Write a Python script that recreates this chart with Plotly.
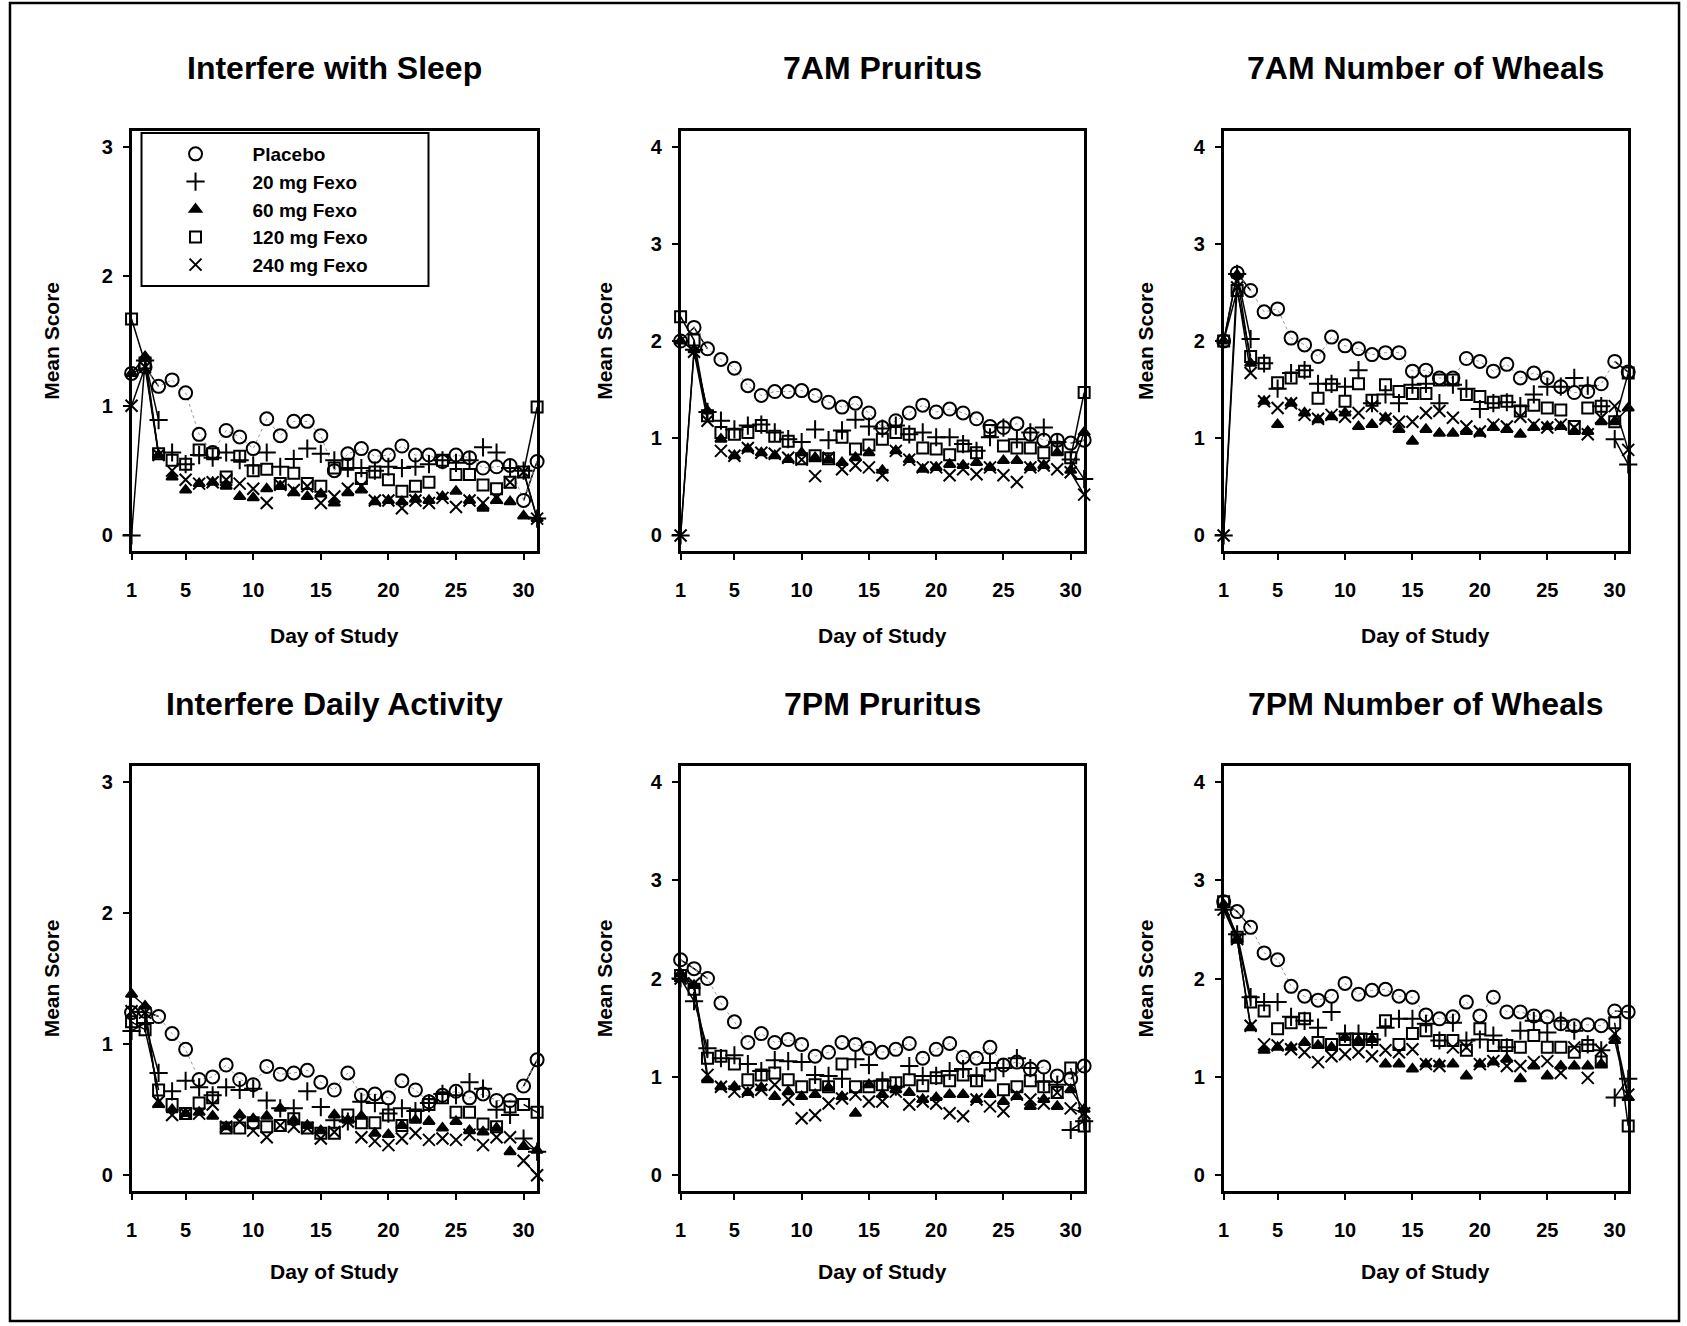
import plotly.graph_objs as go

W, H = 1687, 1326
FONT = 'Liberation Sans, Arial, sans-serif'

days = list(range(1, 32))
x_ticks = [1, 5, 10, 15, 20, 25, 30]
groups = ['Placebo', '20 mg Fexo', '60 mg Fexo', '120 mg Fexo', '240 mg Fexo']
titles = ['Interfere with Sleep', '7AM Pruritus', '7AM Number of Wheals',
          'Interfere Daily Activity', '7PM Pruritus', '7PM Number of Wheals']
y_max = [3, 4, 4, 3, 4, 4]

# Interfere with Sleep
sleep_placebo = [1.25, 1.30, 1.15, 1.20, 1.10, 0.78, 0.64, 0.81, 0.76, 0.67, 0.90, 0.77, 0.88, 0.88, 0.77, 0.50,
                 0.63, 0.67, 0.61, 0.62, 0.69, 0.62, 0.62, 0.57, 0.62, 0.60, 0.52, 0.53, 0.54, 0.27, 0.57]
sleep_20 = [0.00, 1.35, 0.89, 0.64, 0.55, 0.62, 0.60, 0.64, 0.58, 0.54, 0.64, 0.53, 0.59, 0.67, 0.63, 0.58,
            0.52, 0.52, 0.50, 0.53, 0.52, 0.53, 0.55, 0.58, 0.56, 0.58, 0.68, 0.64, 0.52, 0.50, 0.13]
sleep_60 = [1.25, 1.38, 0.62, 0.45, 0.35, 0.40, 0.41, 0.38, 0.30, 0.29, 0.36, 0.38, 0.33, 0.30, 0.32, 0.25,
            0.33, 0.35, 0.26, 0.27, 0.26, 0.28, 0.27, 0.30, 0.34, 0.27, 0.21, 0.27, 0.26, 0.15, 0.13]
sleep_120 = [1.67, 1.33, 0.63, 0.58, 0.55, 0.66, 0.63, 0.45, 0.61, 0.50, 0.51, 0.40, 0.48, 0.40, 0.38, 0.52,
             0.55, 0.44, 0.49, 0.43, 0.34, 0.38, 0.41, 0.58, 0.47, 0.47, 0.39, 0.36, 0.41, 0.49, 0.99]
sleep_240 = [1.00, 1.30, 0.62, 0.50, 0.43, 0.40, 0.41, 0.43, 0.40, 0.36, 0.25, 0.39, 0.35, 0.38, 0.25, 0.30,
             0.36, 0.38, 0.27, 0.27, 0.21, 0.27, 0.25, 0.29, 0.22, 0.27, 0.25, 0.29, 0.41, 0.49, 0.13]

# 7AM Pruritus
am_pru_placebo = [2.00, 2.14, 1.92, 1.81, 1.72, 1.54, 1.44, 1.48, 1.48, 1.49, 1.44, 1.37, 1.32, 1.36, 1.26, 1.11,
                  1.18, 1.26, 1.34, 1.27, 1.30, 1.26, 1.20, 1.12, 1.11, 1.15, 1.04, 0.98, 0.98, 0.95, 0.98]
am_pru_20 = [0.00, 1.91, 1.27, 1.18, 1.09, 1.13, 1.14, 1.06, 0.99, 0.96, 1.09, 0.98, 1.08, 1.19, 1.12, 1.10,
             1.13, 1.04, 1.06, 1.01, 1.01, 0.94, 0.87, 1.01, 1.11, 0.99, 1.06, 1.11, 0.96, 0.78, 0.58]
am_pru_60 = [2.00, 1.91, 1.28, 0.99, 0.82, 0.89, 0.85, 0.82, 0.78, 0.85, 0.80, 0.78, 0.75, 0.80, 0.85, 0.67,
             0.87, 0.78, 0.68, 0.70, 0.73, 0.72, 0.75, 0.70, 0.77, 0.77, 0.70, 0.72, 0.85, 0.67, 1.06]
am_pru_120 = [2.25, 2.01, 1.23, 1.06, 1.04, 1.06, 1.13, 1.02, 0.97, 0.79, 0.82, 0.79, 1.01, 0.89, 0.93, 0.99,
              1.06, 1.04, 0.90, 0.89, 0.83, 0.92, 0.85, 1.08, 0.92, 0.90, 0.90, 0.85, 0.89, 0.80, 1.47]
am_pru_240 = [0.00, 1.89, 1.18, 0.87, 0.82, 0.90, 0.85, 0.84, 0.80, 0.78, 0.61, 0.80, 0.68, 0.72, 0.70, 0.62,
              0.87, 0.78, 0.70, 0.70, 0.62, 0.68, 0.63, 0.70, 0.62, 0.55, 0.70, 0.72, 0.68, 0.65, 0.42]

# 7AM Number of Wheals
am_wh_placebo = [2.00, 2.70, 2.52, 2.30, 2.33, 2.03, 1.96, 1.84, 2.04, 1.95, 1.92, 1.86, 1.88, 1.88, 1.69, 1.70,
                 1.62, 1.62, 1.82, 1.79, 1.69, 1.76, 1.62, 1.67, 1.62, 1.53, 1.47, 1.48, 1.56, 1.79, 1.68]
am_wh_20 = [0.00, 2.69, 2.02, 1.77, 1.51, 1.67, 1.70, 1.56, 1.56, 1.53, 1.70, 1.36, 1.45, 1.36, 1.55, 1.56,
            1.36, 1.55, 1.51, 1.30, 1.36, 1.37, 1.33, 1.45, 1.53, 1.53, 1.62, 1.54, 1.33, 0.99, 0.73]
am_wh_60 = [2.00, 2.68, 1.77, 1.38, 1.14, 1.36, 1.26, 1.19, 1.22, 1.26, 1.12, 1.14, 1.21, 1.09, 0.97, 1.09,
            1.05, 1.05, 1.07, 1.05, 1.11, 1.09, 1.04, 1.11, 1.12, 1.12, 1.07, 1.07, 1.17, 1.17, 1.31]
am_wh_120 = [2.00, 2.52, 1.84, 1.77, 1.57, 1.62, 1.69, 1.41, 1.55, 1.38, 1.56, 1.39, 1.55, 1.48, 1.46, 1.46,
             1.60, 1.60, 1.45, 1.43, 1.37, 1.38, 1.28, 1.34, 1.31, 1.29, 1.12, 1.31, 1.33, 1.17, 1.67]
am_wh_240 = [0.00, 2.55, 1.67, 1.38, 1.31, 1.36, 1.24, 1.20, 1.24, 1.22, 1.26, 1.33, 1.20, 1.17, 1.17, 1.26,
             1.28, 1.21, 1.12, 1.07, 1.14, 1.12, 1.22, 1.14, 1.11, 1.14, 1.11, 1.04, 1.21, 1.33, 0.88]

# Interfere Daily Activity
act_placebo = [1.24, 1.25, 1.21, 1.08, 0.96, 0.73, 0.75, 0.84, 0.73, 0.69, 0.83, 0.77, 0.78, 0.80, 0.71, 0.65,
               0.78, 0.61, 0.62, 0.59, 0.72, 0.65, 0.56, 0.61, 0.64, 0.59, 0.62, 0.57, 0.57, 0.68, 0.88]
act_20 = [1.10, 1.16, 0.78, 0.64, 0.72, 0.67, 0.61, 0.67, 0.65, 0.66, 0.57, 0.51, 0.51, 0.64, 0.52, 0.42,
          0.41, 0.56, 0.55, 0.47, 0.51, 0.49, 0.55, 0.62, 0.61, 0.71, 0.66, 0.50, 0.46, 0.28, 0.18]
act_60 = [1.38, 1.29, 0.54, 0.50, 0.47, 0.48, 0.45, 0.37, 0.46, 0.43, 0.45, 0.51, 0.42, 0.38, 0.34, 0.46,
          0.42, 0.45, 0.32, 0.31, 0.38, 0.42, 0.41, 0.36, 0.41, 0.34, 0.33, 0.36, 0.18, 0.22, 0.19]
act_120 = [1.17, 1.11, 0.65, 0.54, 0.47, 0.55, 0.59, 0.36, 0.36, 0.40, 0.37, 0.38, 0.43, 0.36, 0.32, 0.32,
           0.46, 0.40, 0.40, 0.46, 0.38, 0.46, 0.54, 0.59, 0.48, 0.48, 0.39, 0.37, 0.52, 0.54, 0.48]
act_240 = [1.25, 1.24, 0.56, 0.46, 0.47, 0.47, 0.54, 0.37, 0.41, 0.34, 0.29, 0.38, 0.37, 0.36, 0.28, 0.33,
           0.41, 0.29, 0.26, 0.23, 0.28, 0.32, 0.27, 0.28, 0.27, 0.31, 0.23, 0.29, 0.29, 0.11, 0.00]

# 7PM Pruritus
pm_pru_placebo = [2.19, 2.10, 2.00, 1.75, 1.56, 1.35, 1.44, 1.35, 1.38, 1.33, 1.21, 1.25, 1.35, 1.33, 1.29, 1.25,
                  1.28, 1.34, 1.19, 1.28, 1.34, 1.20, 1.19, 1.30, 1.12, 1.15, 1.08, 1.10, 1.01, 0.98, 1.11]
pm_pru_20 = [2.00, 1.77, 1.29, 1.19, 1.22, 1.13, 1.06, 1.17, 1.16, 1.15, 1.02, 1.01, 0.98, 1.18, 1.12, 0.96,
             0.90, 1.11, 1.01, 1.01, 1.06, 1.08, 1.01, 1.14, 1.09, 1.19, 1.09, 0.95, 0.92, 0.46, 0.55]
pm_pru_60 = [2.05, 1.93, 0.97, 0.90, 0.90, 0.84, 0.89, 0.80, 0.85, 0.80, 0.82, 0.89, 0.80, 0.63, 0.92, 0.82,
             0.87, 0.84, 0.77, 0.79, 0.82, 0.82, 0.77, 0.82, 0.75, 0.80, 0.70, 0.77, 0.70, 0.87, 0.67]
pm_pru_120 = [2.03, 1.89, 1.19, 1.21, 1.13, 0.97, 1.02, 1.04, 0.97, 0.90, 0.92, 0.90, 1.13, 0.90, 0.90, 0.92,
              0.94, 0.97, 0.91, 0.99, 0.96, 1.02, 0.96, 1.02, 0.87, 0.90, 0.96, 0.90, 0.84, 1.09, 0.50]
pm_pru_240 = [2.00, 1.95, 1.02, 0.90, 0.85, 0.85, 0.87, 0.92, 0.77, 0.58, 0.61, 0.73, 0.78, 0.82, 0.75, 0.75,
              0.85, 0.72, 0.75, 0.73, 0.63, 0.60, 0.77, 0.70, 0.65, 0.82, 0.77, 0.73, 0.84, 0.68, 0.63]

# 7PM Number of Wheals
pm_wh_placebo = [2.78, 2.68, 2.52, 2.26, 2.19, 1.92, 1.82, 1.78, 1.82, 1.95, 1.84, 1.88, 1.89, 1.82, 1.81, 1.63,
                 1.59, 1.61, 1.76, 1.62, 1.81, 1.66, 1.66, 1.62, 1.61, 1.54, 1.52, 1.53, 1.52, 1.67, 1.66]
pm_wh_20 = [2.70, 2.45, 1.81, 1.76, 1.76, 1.61, 1.57, 1.50, 1.66, 1.44, 1.44, 1.38, 1.50, 1.59, 1.59, 1.54,
            1.37, 1.55, 1.37, 1.38, 1.42, 1.30, 1.47, 1.57, 1.45, 1.57, 1.47, 1.33, 1.27, 0.79, 0.98]
pm_wh_60 = [2.75, 2.40, 1.50, 1.27, 1.30, 1.30, 1.35, 1.32, 1.30, 1.40, 1.37, 1.38, 1.13, 1.13, 1.08, 1.13,
            1.13, 1.13, 1.01, 1.13, 1.15, 1.18, 0.98, 1.11, 1.01, 1.11, 1.11, 1.11, 1.13, 1.37, 0.79]
pm_wh_120 = [2.78, 2.42, 1.76, 1.67, 1.49, 1.55, 1.59, 1.35, 1.33, 1.38, 1.38, 1.38, 1.57, 1.33, 1.44, 1.47,
             1.37, 1.37, 1.27, 1.49, 1.32, 1.32, 1.30, 1.42, 1.30, 1.30, 1.25, 1.32, 1.15, 1.55, 0.50]
pm_wh_240 = [2.70, 2.40, 1.52, 1.33, 1.32, 1.28, 1.25, 1.15, 1.21, 1.23, 1.25, 1.21, 1.27, 1.25, 1.28, 1.13,
             1.11, 1.30, 1.30, 1.13, 1.16, 1.11, 1.11, 1.15, 1.16, 1.04, 1.30, 0.99, 1.27, 1.44, 0.82]

panels = [
    [sleep_placebo, sleep_20, sleep_60, sleep_120, sleep_240],
    [am_pru_placebo, am_pru_20, am_pru_60, am_pru_120, am_pru_240],
    [am_wh_placebo, am_wh_20, am_wh_60, am_wh_120, am_wh_240],
    [act_placebo, act_20, act_60, act_120, act_240],
    [pm_pru_placebo, pm_pru_20, pm_pru_60, pm_pru_120, pm_pru_240],
    [pm_wh_placebo, pm_wh_20, pm_wh_60, pm_wh_120, pm_wh_240],
]

symbols = ['circle-open', 'cross-thin-open', 'triangle-up', 'square-open', 'x-thin-open']
sizes = [13, 13, 10, 11, 12]

# pixel helpers (figure has zero margins, so paper == page); small nudge left to line up with the scan
X_SHIFT = -5

def px(x):
    return (x + X_SHIFT) / W

def py(y):
    return 1 - y / H

cols = [(131, 538), (682, 1087), (1227, 1633)]
rows = [(131, 551), (766, 1191)]
title_y = [68, 704]
xlabel_y = [635, 1271]
ylabel_x = [51, 606, 1149]

fig = go.Figure()
layout = {}
annotations = []

for i, series in enumerate(panels):
    n = i + 1
    r, c = divmod(i, 3)
    xa = 'x' if n == 1 else 'x%d' % n
    ya = 'y' if n == 1 else 'y%d' % n

    for g, vals in enumerate(series):
        # the joining lines survive only at the start and the end of the study
        seg = [v if d <= 3 or d >= 30 else None for d, v in zip(days, vals)]
        fig.add_trace(go.Scatter(x=days, y=seg, mode='lines', connectgaps=False,
                                 line=dict(color='black', width=1.5), showlegend=False,
                                 hoverinfo='skip', xaxis=xa, yaxis=ya, cliponaxis=False))
        if g == 0:
            fig.add_trace(go.Scatter(x=days, y=vals, mode='lines',
                                     line=dict(color='#999', width=1, dash='dot'), showlegend=False,
                                     hoverinfo='skip', xaxis=xa, yaxis=ya))
        fig.add_trace(go.Scatter(x=days, y=vals, mode='markers', name=groups[g],
                                 marker=dict(symbol=symbols[g], size=sizes[g], color='black',
                                             line=dict(color='black', width=2)),
                                 showlegend=(n == 1), xaxis=xa, yaxis=ya, cliponaxis=False))

    ym = y_max[i]
    axis_common = dict(showline=True, linewidth=2.5, linecolor='black', mirror=True,
                       ticks='outside', ticklen=6, tickwidth=2, tickcolor='black',
                       showgrid=False, zeroline=False,
                       tickfont=dict(family=FONT, size=20, color='black', weight='bold'))
    layout['xaxis' if n == 1 else 'xaxis%d' % n] = dict(
        domain=[px(cols[c][0]), px(cols[c][1])], range=[1, 31], tickvals=x_ticks,
        anchor=ya, ticklabelstandoff=13, **axis_common)
    layout['yaxis' if n == 1 else 'yaxis%d' % n] = dict(
        domain=[py(rows[r][1]), py(rows[r][0])], range=[-0.04 * ym, 1.04 * ym],
        tickvals=list(range(ym + 1)), anchor=xa, ticklabelstandoff=6, **axis_common)

    cx = (cols[c][0] + cols[c][1]) / 2
    cy = (rows[r][0] + rows[r][1]) / 2
    annotations.append(dict(text=titles[i], x=px(cx), y=py(title_y[r]), xref='paper', yref='paper',
                            showarrow=False, xanchor='center', yanchor='middle',
                            font=dict(family=FONT, size=32, color='black', weight='bold')))
    annotations.append(dict(text='Day of Study', x=px(cx), y=py(xlabel_y[r]), xref='paper', yref='paper',
                            showarrow=False, xanchor='center', yanchor='middle',
                            font=dict(family=FONT, size=21, color='black', weight='bold')))
    annotations.append(dict(text='Mean Score', x=px(ylabel_x[c]), y=py(cy), xref='paper', yref='paper',
                            showarrow=False, xanchor='center', yanchor='middle', textangle=-90,
                            font=dict(family=FONT, size=21, color='black', weight='bold')))

shapes = [
    # outer frame of the whole figure
    dict(type='rect', xref='paper', yref='paper', x0=px(9), x1=px(1684), y0=py(1321), y1=py(3),
         line=dict(color='black', width=2.5)),
    # legend box
    dict(type='rect', xref='paper', yref='paper', x0=px(141), x1=px(429), y0=py(286), y1=py(133),
         line=dict(color='black', width=2)),
]

fig.update_layout(
    width=W, height=H,
    margin=dict(l=0, r=0, t=0, b=0),
    paper_bgcolor='white', plot_bgcolor='white',
    font=dict(family=FONT, color='black'),
    annotations=annotations,
    shapes=shapes,
    legend=dict(x=px(138), y=py(135), xanchor='left', yanchor='top', itemwidth=104,
                bgcolor='rgba(0,0,0,0)', borderwidth=0, tracegroupgap=0,
                font=dict(family=FONT, size=19, color='black', weight='bold')),
    **layout
)

# drop the browser's default body margin so the page matches the figure pixel for pixel
fig.write_html('out.html', config={'displayModeBar': False},
               post_script="document.body.style.margin='0';")
